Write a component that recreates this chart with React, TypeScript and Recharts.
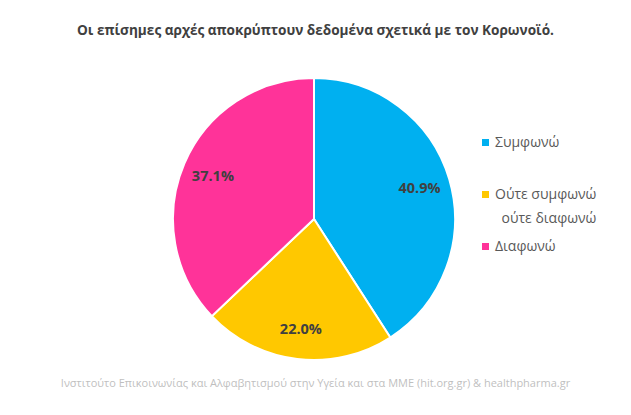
import React from "react";
import { PieChart, Pie, Cell, Legend } from "recharts";

const categories = ["Συμφωνώ", "Ούτε συμφωνώ ούτε διαφωνώ", "Διαφωνώ"];
const legendLines = [["Συμφωνώ"], ["Ούτε συμφωνώ", "ούτε διαφωνώ"], ["Διαφωνώ"]];
const values = [40.9, 22.0, 37.1];
const colors = ["#00B0F0", "#FFC800", "#FF3399"];

const title = "Οι επίσημες αρχές αποκρύπτουν δεδομένα σχετικά με τον Κορωνοϊό.";
const footer = "Ινστιτούτο Επικοινωνίας και Αλφαβητισμού στην Υγεία και στα ΜΜΕ (hit.org.gr) & healthpharma.gr";

const data = categories.map((name, i) => ({ name, value: values[i] }));

const RAD = Math.PI / 180;
const renderLabel = (props: any) => {
  const { cx, cy, midAngle, value } = props;
  const r = 110;
  const x = cx + r * Math.cos(-midAngle * RAD);
  const y = cy + r * Math.sin(-midAngle * RAD);
  return (
    <text
      x={x}
      y={y}
      textAnchor="middle"
      dominantBaseline="central"
      fill="#404040"
      fontSize={14.5}
      fontWeight={700}
      fontFamily="'Open Sans', sans-serif"
    >
      {value.toFixed(1)}%
    </text>
  );
};

const renderLegend = () => (
  <div style={{ fontFamily: "'Open Sans', sans-serif", fontSize: 14, color: "#595959" }}>
    {legendLines.map((lines, i) => (
      <div
        key={i}
        style={{ position: "absolute", left: 0, top: [2, 54, 106][i], display: "flex", lineHeight: "24px" }}
      >
        <div style={{ width: 7, height: 7, background: colors[i], marginTop: 9, marginRight: 6 }} />
        <div>
          {lines.map((l, j) => (
            <div key={j} style={{ textAlign: j > 0 ? "right" : "left" }}>{l}</div>
          ))}
        </div>
      </div>
    ))}
  </div>
);

export default function App() {
  return (
    <div style={{ position: "fixed", left: 0, top: 0, width: 631, height: 415, background: "#fff" }}>
      <div
        style={{
          position: "absolute",
          left: 0,
          width: 631,
          top: 20,
          textAlign: "center",
          fontFamily: "'Open Sans', sans-serif",
          fontWeight: 700,
          fontSize: 13.6,
          color: "#404040",
        }}
      >
        {title}
      </div>
      <PieChart width={631} height={415} margin={{ top: 0, right: 0, bottom: 0, left: 0 }}>
        <Pie
          data={data}
          dataKey="value"
          nameKey="name"
          cx={314}
          cy={219}
          outerRadius={141}
          startAngle={90}
          endAngle={-270}
          stroke="#ffffff"
          strokeWidth={2}
          label={renderLabel}
          labelLine={false}
          isAnimationActive={false}
        >
          {data.map((d, i) => (
            <Cell key={d.name} fill={colors[i]} />
          ))}
        </Pie>
        <Legend content={renderLegend} wrapperStyle={{ left: 482, top: 128, width: 140 }} />
      </PieChart>
      <div
        style={{
          position: "absolute",
          left: 0,
          width: 631,
          top: 375,
          textAlign: "center",
          fontFamily: "'Open Sans', sans-serif",
          fontSize: 11,
          color: "#BFBFBF",
        }}
      >
        {footer}
      </div>
    </div>
  );
}
